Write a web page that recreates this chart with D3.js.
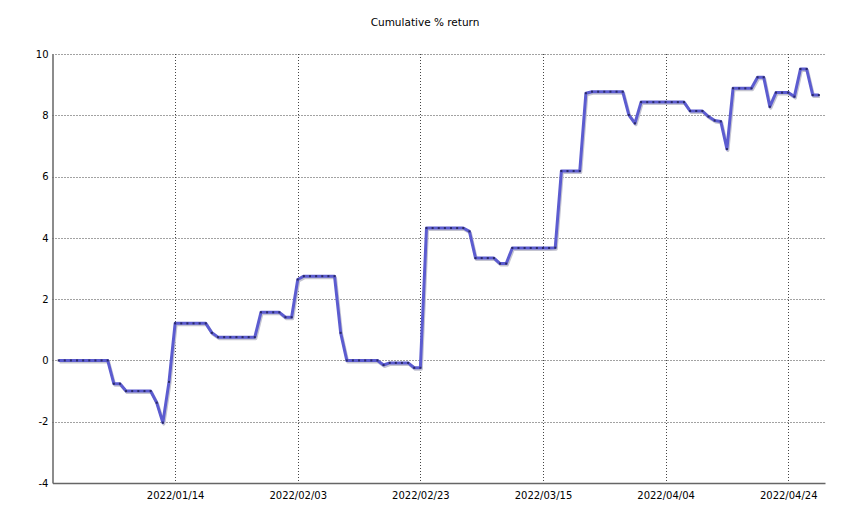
<!DOCTYPE html>
<html>
<head>
<meta charset="utf-8">
<script src="https://cdn.jsdelivr.net/npm/d3@7"></script>
<style>
  body { margin: 0; background: #fff; }
  text { font-family: "DejaVu Sans", Verdana, sans-serif; }
</style>
</head>
<body>
<svg id="chart" width="850" height="528"></svg>
<script>
const title = "Cumulative % return";
const startDate = "2021-12-26";
const returns = [
  0, 0, 0, 0, 0, 0, 0, 0, 0,
  -0.76, -0.76,
  -1.0, -1.0, -1.0, -1.0, -1.0,
  -1.38, -2.03, -0.7,
  1.21, 1.21, 1.21, 1.21, 1.21, 1.21,
  0.9,
  0.76, 0.76, 0.76, 0.76, 0.76, 0.76, 0.76,
  1.57, 1.57, 1.57, 1.57,
  1.41, 1.41,
  2.64,
  2.75, 2.75, 2.75, 2.75, 2.75, 2.75,
  0.9,
  0, 0, 0, 0, 0, 0,
  -0.15,
  -0.08, -0.08, -0.08, -0.08,
  -0.24, -0.24,
  4.32, 4.32, 4.32, 4.32, 4.32, 4.32, 4.32,
  4.21,
  3.34, 3.34, 3.34, 3.34,
  3.16, 3.16,
  3.67, 3.67, 3.67, 3.67, 3.67, 3.67, 3.67, 3.68,
  6.18, 6.18, 6.18, 6.18,
  8.72,
  8.77, 8.77, 8.77, 8.77, 8.77, 8.77,
  8.01, 7.74,
  8.43, 8.43, 8.43, 8.43, 8.43, 8.43, 8.43, 8.43,
  8.14, 8.14, 8.14,
  7.96, 7.83, 7.8, 6.9,
  8.88, 8.88, 8.88, 8.88,
  9.24, 9.24,
  8.28,
  8.74, 8.74, 8.74,
  8.61,
  9.51, 9.51,
  8.66, 8.66
];
const xTickLabels = ["2022/01/14", "2022/02/03", "2022/02/23", "2022/03/15", "2022/04/04", "2022/04/24"];
const yTicks = [-4, -2, 0, 2, 4, 6, 8, 10];

(function () {
const parse = d3.timeParse("%Y-%m-%d");
const parseTick = d3.timeParse("%Y/%m/%d");
const start = parse(startDate);
const dates = d3.timeDay.range(start, d3.timeDay.offset(start, returns.length));
const data = returns.map((v, i) => ({ date: dates[i], value: v }));

const svg = d3.select("#chart");
const mLeft = 52.5, mRight = 825, mTop = 54, mBottom = 483;

const x = d3.scaleTime()
  .domain([d3.timeDay.offset(start, -1), d3.timeDay.offset(start, returns.length)])
  .range([mLeft, mRight]);
const y = d3.scaleLinear().domain([-4, 10]).range([mBottom, mTop]);

// title
svg.append("text")
  .attr("x", 425).attr("y", 26)
  .attr("text-anchor", "middle")
  .attr("font-size", 10.5)
  .attr("fill", "#000")
  .text(title);

// horizontal grid
svg.append("g").selectAll("line")
  .data(yTicks.filter(t => t !== -4))
  .join("line")
  .attr("x1", mLeft).attr("x2", mRight)
  .attr("y1", d => Math.round(y(d)) + 0.5).attr("y2", d => Math.round(y(d)) + 0.5)
  .attr("stroke", "#444").attr("stroke-width", 1)
  .attr("stroke-dasharray", "1,2");

// vertical grid
const xTickDates = xTickLabels.map(parseTick);
svg.append("g").selectAll("line")
  .data(xTickDates)
  .join("line")
  .attr("x1", d => Math.round(x(d)) + 0.5).attr("x2", d => Math.round(x(d)) + 0.5)
  .attr("y1", mTop).attr("y2", mBottom)
  .attr("stroke", "#444").attr("stroke-width", 1)
  .attr("stroke-dasharray", "1,2");

// axes
const yAxis = d3.axisLeft(y).tickValues(yTicks).tickSize(0).tickPadding(4).tickFormat(d => String(d));
const gy = svg.append("g").attr("transform", `translate(${mLeft},0)`).call(yAxis);
gy.select(".domain").attr("stroke", "#666").attr("stroke-width", 1.5);
gy.selectAll("text").attr("font-size", 10).attr("fill", "#000")
  .attr("font-family", "DejaVu Sans, Verdana, sans-serif");

const xAxis = d3.axisBottom(x).tickValues(xTickDates).tickSize(0).tickPadding(9)
  .tickFormat(d3.timeFormat("%Y/%m/%d"));
const gx = svg.append("g").attr("transform", `translate(0,${mBottom})`).call(xAxis);
gx.select(".domain").attr("stroke", "#666").attr("stroke-width", 1.5);
gx.selectAll("text").attr("font-size", 10).attr("fill", "#000")
  .attr("font-family", "DejaVu Sans, Verdana, sans-serif");

// line shadow
const line = d3.line().x(d => x(d.date)).y(d => y(d.value));
svg.append("path")
  .datum(data)
  .attr("fill", "none")
  .attr("stroke", "#c4c4d0")
  .attr("stroke-width", 3)
  .attr("stroke-linejoin", "round")
  .attr("transform", "translate(1,1.5)")
  .attr("d", line);
// main line
svg.append("path")
  .datum(data)
  .attr("fill", "none")
  .attr("stroke", "#5c5cd0")
  .attr("stroke-width", 3)
  .attr("stroke-linejoin", "round")
  .attr("d", line);
// point markers
svg.append("g").selectAll("rect")
  .data(data)
  .join("rect")
  .attr("x", d => x(d.date) - 1)
  .attr("y", d => y(d.value) - 1)
  .attr("width", 2).attr("height", 2)
  .attr("fill", "#2a2a66");
})();
</script>
</body>
</html>
